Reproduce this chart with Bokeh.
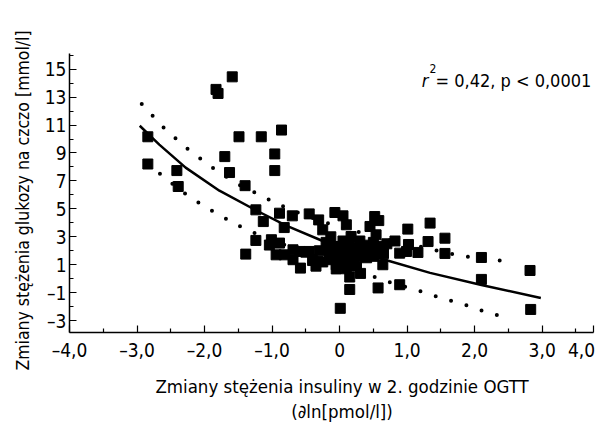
from bokeh.plotting import figure
from bokeh.models import FixedTicker, Label
from bokeh.embed import file_html
from bokeh.resources import INLINE

FONT = "Liberation Sans Narrow, DejaVu Sans Condensed, Liberation Sans"
NB = "\u00a0"

# scatter data
pts_x = [-1.59, -1.83, -1.80, -2.84, -1.49, -1.16, -0.86, -0.96, -1.70, -0.96,
         -2.84, -2.41, -1.63, -2.39, -1.40, -1.24, -1.13, -0.89, -0.70, -0.82,
         -0.45, -0.31, -0.25, -0.07, 0.05, 0.10, 0.52, 0.58, 0.45, 1.01,
         1.34, 1.56, 1.31, 1.02, 0.82, 0.89, 1.16, 1.56, 2.10, 2.82,
         2.10, 0.89, 0.57, 0.15, 0.01, 2.83, 0.64, 0.31, 0.15, -0.58,
         -1.39, -1.24, -1.01, -0.89, -1.04, -0.94, -0.82, -0.69, -0.59, -0.69,
         -0.45, -0.32, -0.15, -0.10, 0.17, 0.54, 0.99, 0.10, -0.13,
         -0.15, -0.10, -0.05, 0.00, 0.00, 0.05, 0.05, 0.10, 0.10, 0.15,
         0.20, 0.20, 0.25, 0.30, 0.30, 0.35, 0.40, 0.40, 0.45, 0.50,
         0.50, 0.55, 0.60, 0.65, 0.70, -0.20, -0.05, 0.25, -0.25, -0.50,
         -0.40, -0.30, -0.35]
pts_y = [14.45, 13.55, 13.26, 10.16, 10.16, 10.16, 10.64, 8.93, 8.74, 7.74,
         8.21, 7.74, 7.60, 6.60, 6.66, 4.93, 4.09, 4.69, 4.50, 3.66,
         4.64, 4.21, 3.50, 4.74, 4.50, 3.86, 4.45, 4.16, 3.74, 3.55,
         3.98, 2.90, 2.66, 2.45, 2.70, 1.83, 1.88, 1.81, 1.52, 0.59,
         -0.05, -0.43, -0.66, -0.77, -2.12, -2.20, 1.00, 0.38, 0.12, 0.76,
         1.76, 2.74, 2.79, 2.55, 2.41, 1.71, 1.71, 2.07, 1.95, 1.36,
         1.95, 1.24, 1.36, 2.31, 3.02, 3.14, 1.95, 0.71, 3.00,
         2.00, 1.50, 1.00, 2.30, 1.60, 1.20, 2.70, 2.00, 1.40, 2.50,
         1.70, 1.10, 2.20, 1.60, 2.70, 2.00, 1.50, 2.40, 1.90, 2.60,
         1.60, 2.10, 2.30, 1.80, 2.50, 2.60, 0.70, 0.90, 1.20, 1.90,
         1.30, 2.00, 0.90]

# regression curve
fit_x = [-2.96, -2.67, -2.28, -1.78, -1.24, -0.79, -0.25, 0.20, 0.67, 1.34, 2.10, 2.98]
fit_y = [10.95, 9.60, 7.95, 6.30, 4.90, 3.80, 2.70, 2.00, 1.36, 0.42, -0.45, -1.38]

# confidence band (upper)
up_x = [-2.93, -2.62, -2.28, -1.92, -1.55, -1.14, -0.73, -0.32, -0.10, 0.35, 0.79, 1.24, 1.49, 1.68, 1.92, 2.37, 2.60]
up_y = [12.50, 10.88, 9.41, 8.07, 6.88, 5.88, 4.93, 4.21, 3.86, 3.25, 2.70, 2.25, 1.95, 1.76, 1.55, 1.31, 1.19]

# confidence band (lower)
lo_x = [-2.85, -2.67, -2.50, -2.32, -2.13, -1.94, -1.74, -1.55, -1.35, -1.11, -0.60, -0.10,
        0.30, 0.59, 0.81, 1.03, 1.25, 1.46, 1.68, 1.90, 2.11, 2.34, 2.55]
lo_y = [8.20, 7.55, 6.88, 6.19, 5.58, 4.99, 4.45, 3.93, 3.45, 2.98, 2.00, 1.15,
        0.50, 0.00, -0.36, -0.66, -0.98, -1.31, -1.62, -1.93, -2.29, -2.62, -2.98]

x_major = [-4, -3, -2, -1, 0, 1, 2, 3, 3.76]
x_labels = ["\u20134,0", "\u20133,0", "\u20132,0", "\u20131,0", "0", "1,0", "2,0", "3,0", "4,0" + NB]
x_minor = [-3.5, -2.5, -1.5, -0.5, 0.5, 1.5, 2.5, 3.5]
y_major = [-3, -1, 1, 3, 5, 7, 9, 11, 13, 15]
y_labels = ["\u20133", "\u20131", "1", "3", "5", "7", "9", "11", "13", "15"]
y_minor = [-2, 0, 2, 4, 6, 8, 10, 12, 14, 16]

x_title = NB * 4 + "Zmiany st\u0119\u017cenia insuliny w 2. godzinie OGTT\n" + NB * 4 + "(\u2202ln[pmol/l])"
y_title = "Zmiany st\u0119\u017cenia glukozy na czczo [mmol/l]" + NB * 3

p = figure(frame_width=524, frame_height=279, x_range=(-4, 3.76), y_range=(-3.85, 16.12),
           output_backend="svg", toolbar_location=None,
           min_border_left=69, min_border_right=7, min_border_top=53, min_border_bottom=93)
p.outline_line_color = None
p.xgrid.visible = False
p.ygrid.visible = False

for ax in (p.xaxis[0], p.yaxis[0]):
    ax.axis_line_color = "black"
    ax.axis_line_width = 1.5
    ax.major_tick_line_color = "black"
    ax.minor_tick_line_color = "black"
    ax.major_tick_line_width = 1.2
    ax.minor_tick_line_width = 1.2
    ax.major_tick_in = 7
    ax.major_tick_out = 0
    ax.minor_tick_in = 4
    ax.minor_tick_out = 0
    ax.major_label_text_font = FONT
    ax.major_label_text_font_size = "19px"
    ax.major_label_text_color = "black"
    ax.axis_label_text_font = FONT
    ax.axis_label_text_font_style = "normal"
    ax.axis_label_text_color = "black"

p.xaxis[0].ticker = FixedTicker(ticks=x_major, minor_ticks=x_minor)
p.xaxis[0].major_label_overrides = {float(t): l for t, l in zip(x_major, x_labels)}
p.xaxis[0].major_label_standoff = 6
p.xaxis[0].axis_label = x_title
p.xaxis[0].axis_label_text_font_size = "18.5px"
p.xaxis[0].axis_label_standoff = 12
p.yaxis[0].ticker = FixedTicker(ticks=y_major, minor_ticks=y_minor)
p.yaxis[0].major_label_overrides = {float(t): l for t, l in zip(y_major, y_labels)}
p.yaxis[0].major_label_standoff = 3
p.yaxis[0].axis_label = y_title
p.yaxis[0].axis_label_text_font_size = "17.5px"
p.yaxis[0].axis_label_standoff = 9

# bands and fit
p.line(up_x, up_y, line_color="black", line_width=4, line_dash="0 16", line_cap="round")
p.line(lo_x, lo_y, line_color="black", line_width=4, line_dash="0 16", line_cap="round")
p.line(fit_x, fit_y, line_color="black", line_width=2.5)
p.scatter(pts_x, pts_y, marker="square", size=10, color="black")

def lab(text, x, y, **kw):
    d = dict(x=x, y=y, text=text, text_font=FONT, text_font_size="18px",
             text_color="black", text_align="left", text_baseline="alphabetic")
    d.update(kw)
    p.add_layout(Label(**d))

lab("r", 1.215, 14.19, text_font_style="italic")
lab("2", 1.33, 15.05, text_font_size="12px")
lab("= 0,42, p < 0,0001", 1.42, 14.19)

open("out.html", "w").write(file_html(p, INLINE))
